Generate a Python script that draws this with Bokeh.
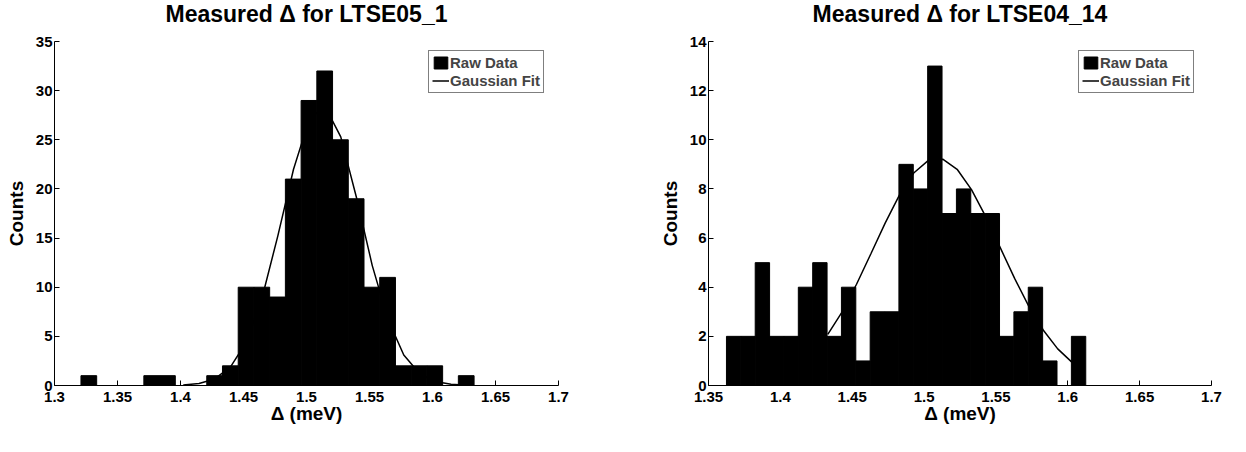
import numpy as np
from bokeh.plotting import figure
from bokeh.layouts import row
from bokeh.models import FixedTicker, Legend, LegendItem, Title
from bokeh.embed import file_html
from bokeh.resources import INLINE

# ---------------- data ----------------
# Left panel: LTSE05_1
left_title = "Measured \u0394 for LTSE05_1"
left_bin_lo, left_bin_hi = 1.321, 1.633
left_counts = [1, 0, 0, 0, 1, 1, 0, 0, 1, 2, 10, 10, 9, 21, 29, 32, 25, 19, 10, 11, 2, 2, 2, 0, 1]
left_fit_x = [1.4022, 1.4147, 1.4272, 1.4397, 1.4522, 1.4647, 1.4772, 1.4897, 1.5022,
              1.5147, 1.5272, 1.5397, 1.5522, 1.5647, 1.5772, 1.5897, 1.6022, 1.6147, 1.6272]
left_fit_y = [0.05, 0.21, 0.67, 1.9, 4.4, 8.9, 15.2, 22.0, 27.1,
              28.4, 25.3, 19.1, 12.2, 6.7, 3.1, 1.22, 0.41, 0.12, 0.03]
left_xticks = [1.3, 1.35, 1.4, 1.45, 1.5, 1.55, 1.6, 1.65, 1.7]
left_xtick_labels = ["1.3", "1.35", "1.4", "1.45", "1.5", "1.55", "1.6", "1.65", "1.7"]
left_yticks = [0, 5, 10, 15, 20, 25, 30, 35]

# Right panel: LTSE04_14
right_title = "Measured \u0394 for LTSE04_14"
right_bin_lo, right_bin_hi = 1.3625, 1.6125
right_counts = [2, 2, 5, 2, 2, 4, 5, 2, 4, 1, 3, 3, 9, 8, 13, 7, 8, 7, 7, 2, 3, 4, 1, 0, 2]
right_fit_x = [1.433, 1.443, 1.453, 1.463, 1.473, 1.483, 1.493, 1.503, 1.513, 1.523,
               1.533, 1.543, 1.553, 1.563, 1.573, 1.583, 1.593, 1.603]
right_fit_y = [2.08, 3.00, 4.12, 5.36, 6.62, 7.77, 8.66, 9.16, 9.21, 8.80,
               7.97, 6.86, 5.61, 4.36, 3.21, 2.25, 1.49, 0.94]
right_xticks = [1.35, 1.4, 1.45, 1.5, 1.55, 1.6, 1.65, 1.7]
right_xtick_labels = ["1.35", "1.4", "1.45", "1.5", "1.55", "1.6", "1.65", "1.7"]
right_yticks = [0, 2, 4, 6, 8, 10, 12, 14]

x_label = "\u0394 (meV)"
y_label = "Counts"
legend_labels = ["Raw Data", "Gaussian Fit"]

FONT = "Liberation Sans"
W, H = 623, 452
TOP, BOTTOM = 41, 67


def make_panel(title, lo, hi, counts, fx, fy, xticks, xlabels, yticks,
               xr, yr, border_left, border_right, legend_right_gap):
    p = figure(width=W, height=H, x_range=xr, y_range=yr, title=None,
               output_backend="svg", toolbar_location=None,
               min_border_left=border_left, min_border_right=border_right,
               min_border_top=TOP, min_border_bottom=BOTTOM)
    p.outline_line_color = None
    p.background_fill_color = "white"
    p.xgrid.visible = False
    p.ygrid.visible = False

    # spacer nearest the frame, then the real title above it
    p.add_layout(Title(text=" ", text_font_size="1px", standoff=14), "above")
    p.add_layout(Title(text=title, align="center", vertical_align="top",
                       text_font=FONT, text_font_style="bold", text_font_size="23px",
                       text_color="black", standoff=-8), "above")

    edges = np.linspace(lo, hi, len(counts) + 1)
    bars = p.quad(left=edges[:-1], right=edges[1:], bottom=0, top=counts,
                  fill_color="black", line_color="black", line_width=1)
    fit = p.line(fx, fy, line_color="black", line_width=1.5)

    for ax in (p.xaxis[0], p.yaxis[0]):
        ax.axis_line_color = "black"
        ax.axis_line_width = 1
        ax.major_tick_in = 5
        ax.major_tick_out = 0
        ax.major_tick_line_color = "black"
        ax.minor_tick_line_color = None
        ax.major_label_text_font = FONT
        ax.major_label_text_font_style = "bold"
        ax.major_label_text_font_size = "15px"
        ax.major_label_text_color = "black"
        ax.axis_label_text_font = FONT
        ax.axis_label_text_font_style = "bold"
        ax.axis_label_text_font_size = "19px"
        ax.axis_label_text_color = "black"

    p.xaxis.ticker = FixedTicker(ticks=xticks)
    p.xaxis.major_label_overrides = {t: s for t, s in zip(xticks, xlabels)}
    p.xaxis.major_label_standoff = 6
    p.xaxis.axis_label = x_label
    p.xaxis.axis_label_standoff = -2
    p.yaxis.ticker = FixedTicker(ticks=yticks)
    p.yaxis.major_label_standoff = 2
    p.yaxis.axis_label = y_label
    p.yaxis.axis_label_standoff = 6

    frame_w = W - border_left - border_right
    frame_h = H - TOP - BOTTOM
    legend_w, legend_h = 116, 42
    legend = Legend(items=[LegendItem(label=legend_labels[0], renderers=[bars]),
                           LegendItem(label=legend_labels[1], renderers=[fit])],
                    location=(frame_w - legend_w - legend_right_gap, frame_h - legend_h - 10))
    legend.margin = 0
    legend.padding = 3
    legend.spacing = 1
    legend.glyph_width = 17
    legend.glyph_height = 15
    legend.label_height = 16
    legend.label_standoff = 1
    legend.label_text_font = FONT
    legend.label_text_font_style = "bold"
    legend.label_text_font_size = "15px"
    legend.border_line_color = "black"
    legend.border_line_width = 1
    legend.background_fill_alpha = 1.0
    p.add_layout(legend)
    return p


p1 = make_panel(left_title, left_bin_lo, left_bin_hi, left_counts, left_fit_x, left_fit_y,
                left_xticks, left_xtick_labels, left_yticks, (1.3, 1.7), (0, 35), 54, 65, 14)
p2 = make_panel(right_title, right_bin_lo, right_bin_hi, right_counts, right_fit_x, right_fit_y,
                right_xticks, right_xtick_labels, right_yticks, (1.35, 1.7), (0, 14), 85, 35, 17)

layout = row(p1, p2)
open("out.html", "w").write(file_html(layout, INLINE))
